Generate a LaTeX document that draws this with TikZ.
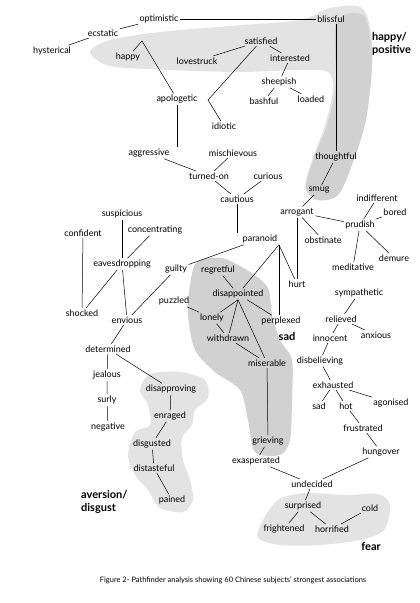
\documentclass[tikz,border=0pt]{standalone}
\usepackage{fontspec}
\setmainfont{Lato}

\begin{document}
\begin{tikzpicture}[x=1pt,y=-1pt,
    emo/.style={font=\fontsize{9}{10}\selectfont, inner sep=1.5pt},
    grp/.style={font=\bfseries\fontsize{11}{13}\selectfont, align=left, inner sep=0pt},
    link/.style={line width=.5pt},
    blob/.style={fill=gray!22},
    blobdark/.style={fill=gray!36}]

    \useasboundingbox (0,0) rectangle (420,603);

    % shaded groups
    \fill[blob] plot[smooth cycle] coordinates {(90,52) (110,40) (160,32) (230,26) (300,20) (330,8) (362,8) (372,40) (370,90) (362,130) (350,165) (338,195) (318,200) (305,188) (312,160) (325,125) (333,90) (328,72) (300,70) (240,72) (170,70) (110,66)};
    \fill[blobdark] plot[smooth cycle] coordinates {(336,22) (364,16) (372,60) (366,120) (352,165) (338,195) (318,200) (306,188) (314,158) (327,125) (336,85)};
    \fill[blobdark] plot[smooth cycle] coordinates {(197,262) (222,258) (250,272) (268,288) (272,315) (280,340) (292,360) (292,400) (290,440) (280,455) (255,452) (248,420) (240,390) (215,372) (195,350) (188,315) (190,285)};
    \fill[blob] plot[smooth cycle] coordinates {(150,374) (180,372) (205,380) (208,398) (195,410) (192,425) (182,438) (183,460) (190,480) (193,500) (183,512) (160,508) (148,490) (135,475) (128,455) (135,432) (150,425) (148,405) (140,390)};
    \fill[blob] plot[smooth cycle] coordinates {(262,522) (278,500) (305,493) (345,495) (378,494) (390,505) (384,530) (360,540) (320,545) (280,545) (258,538)};

    % happy / positive
    \node[emo] (optimistic) at (159,19) {optimistic};
    \node[emo] (blissful) at (331,19) {blissful};
    \node[emo] (ecstatic) at (103,33) {ecstatic};
    \node[emo] (hysterical) at (52,51) {hysterical};
    \node[emo] (happy) at (128,57) {happy};
    \node[emo] (lovestruck) at (197,61) {lovestruck};
    \node[emo] (satisfied) at (261,41) {satisfied};
    \node[emo] (interested) at (290,58) {interested};
    \node[emo] (sheepish) at (279,82) {sheepish};
    \node[emo] (bashful) at (264,101) {bashful};
    \node[emo] (loaded) at (311,99) {loaded};
    \node[emo] (apologetic) at (177,99) {apologetic};
    \node[emo] (idiotic) at (224,126) {idiotic};
    \node[emo] (thoughtful) at (336,157) {thoughtful};
    \node[emo] (smug) at (319,190) {smug};
    \coordinate (hkink) at (142,41);
    \coordinate (akink) at (208,100);

    \node[emo] (aggressive) at (149,153) {aggressive};
    \node[emo] (mischievous) at (233,153) {mischievous};
    \node[emo] (turnedon) at (209,176) {turned-on};
    \node[emo] (curious) at (268,176) {curious};
    \node[emo] (cautious) at (237,199) {cautious};
    \node[emo] (arrogant) at (297,212) {arrogant};
    \node[emo] (indifferent) at (377,198) {indifferent};
    \node[emo] (bored) at (395,212) {bored};
    \node[emo] (prudish) at (360,225) {prudish};
    \node[emo] (obstinate) at (323,240) {obstinate};
    \node[emo] (meditative) at (353,267) {meditative};
    \node[emo] (demure) at (394,258) {demure};
    \node[emo] (paranoid) at (260,239) {paranoid};
    \node[emo] (hurt) at (297,284) {hurt};

    \node[emo] (suspicious) at (122,214) {suspicious};
    \node[emo] (concentrating) at (155,230) {concentrating};
    \node[emo] (confident) at (83,233) {confident};
    \node[emo] (eavesdropping) at (122,264) {eavesdropping};
    \node[emo] (guilty) at (176,269) {guilty};
    \node[emo] (shocked) at (82,313) {shocked};
    \node[emo] (envious) at (127,320) {envious};
    \node[emo] (determined) at (108,349) {determined};
    \node[emo] (jealous) at (107,375) {jealous};
    \node[emo] (surly) at (107,400) {surly};
    \node[emo] (negative) at (108,427) {negative};

    % sad
    \node[emo] (regretful) at (218,270) {regretful};
    \node[emo] (puzzled) at (174,301) {puzzled};
    \node[emo] (disappointed) at (238,294) {disappointed};
    \node[emo] (perplexed) at (281,321) {perplexed};
    \node[emo] (lonely) at (212,318) {lonely};
    \node[emo] (withdrawn) at (228,338) {withdrawn};
    \node[emo] (miserable) at (267,363) {miserable};
    \node[emo] (grieving) at (268,441) {grieving};
    \node[emo] (exasperated) at (256,461) {exasperated};

    \node[emo] (sympathetic) at (359,293) {sympathetic};
    \node[emo] (relieved) at (341,319) {relieved};
    \node[emo] (anxious) at (376,335) {anxious};
    \node[emo] (innocent) at (330,338) {innocent};
    \node[emo] (disbelieving) at (320,361) {disbelieving};
    \node[emo] (exhausted) at (333,385) {exhausted};
    \node[emo] (agonised) at (391,403) {agonised};
    \node[emo] (sadword) at (319,406) {sad};
    \node[emo] (hot) at (346,406) {hot};
    \node[emo] (frustrated) at (363,428) {frustrated};
    \node[emo] (hungover) at (381,452) {hungover};

    % aversion / disgust
    \node[emo] (disapproving) at (171,389) {disapproving};
    \node[emo] (enraged) at (170,416) {enraged};
    \node[emo] (disgusted) at (152,444) {disgusted};
    \node[emo] (distasteful) at (154,468) {distasteful};
    \node[emo] (pained) at (172,500) {pained};

    % fear
    \node[emo] (undecided) at (312,484) {undecided};
    \node[emo] (surprised) at (303,506) {surprised};
    \node[emo] (cold) at (370,508) {cold};
    \node[emo] (frightened) at (284,529) {frightened};
    \node[emo] (horrified) at (332,529) {horrified};

    % group names
    \node[grp, anchor=north west] (poslbl) at (372,32) {happy/\\positive};
    \node[grp] (sadlbl) at (287,336) {sad};
    \node[grp, anchor=north west] (averlbl) at (81,490) {aversion/\\disgust};
    \node[grp] (fearlbl) at (371,546) {fear};

    \node[font=\fontsize{7.5}{9}\selectfont] (caption) at (233,580) {Figure 2- Pathfinder analysis showing 60 Chinese subjects' strongest associations};

    % links
    \draw[link] (hysterical) -- (ecstatic);
    \draw[link] (ecstatic) -- (optimistic);
    \draw[link] (optimistic) -- (blissful);
    \draw[link] (happy) -- (hkink) -- (apologetic);
    \draw[link] (lovestruck) -- (satisfied);
    \draw[link] (satisfied) -- (interested);
    \draw[link] (satisfied) -- (akink) -- (idiotic);
    \draw[link] (interested) -- (sheepish);
    \draw[link] (sheepish) -- (bashful);
    \draw[link] (sheepish) -- (loaded);
    \draw[link] (blissful.south -| thoughtful) -- (thoughtful);
    \draw[link] (thoughtful) -- (smug);
    \draw[link] (smug) -- (arrogant);
    \draw[link] (apologetic) -- (apologetic |- aggressive.north);

    \draw[link] (aggressive) -- (turnedon);
    \draw[link] (mischievous) -- (turnedon);
    \draw[link] (turnedon) -- (cautious);
    \draw[link] (curious) -- (cautious);
    \draw[link] (cautious) -- (cautious |- paranoid.north);
    \draw[link] (arrogant) -- (prudish);
    \draw[link] (indifferent) -- (prudish);
    \draw[link] (bored) -- (prudish);
    \draw[link] (prudish) -- (meditative);
    \draw[link] (prudish) -- (demure);
    \draw[link] (arrogant) -- (obstinate);
    \draw[link] (arrogant) -- (hurt);
    \draw[link] (paranoid) -- (guilty);
    \draw[link] (paranoid.south east) -- (disappointed);
    \draw[link] (paranoid.south east) -- (hurt);
    \draw[link] (paranoid.south east) -- (paranoid.south east |- perplexed.north);

    \draw[link] (suspicious) -- (eavesdropping);
    \draw[link] (concentrating) -- (eavesdropping);
    \draw[link] (confident) -- (shocked);
    \draw[link] (eavesdropping) -- (shocked);
    \draw[link] (eavesdropping) -- (envious);
    \draw[link] (guilty) -- (envious);
    \draw[link] (envious) -- (determined);
    \draw[link] (determined) -- (jealous) -- (surly) -- (negative);
    \draw[link] (determined) -- (disapproving);

    \draw[link] (disapproving) -- (enraged);
    \draw[link] (enraged) -- (disgusted);
    \draw[link] (disgusted) -- (distasteful);
    \draw[link] (distasteful) -- (pained);

    \draw[link] (regretful) -- (disappointed);
    \draw[link] (puzzled) -- (lonely);
    \draw[link] (disappointed.south) -- (lonely);
    \draw[link] (disappointed.south) -- (withdrawn);
    \draw[link] (disappointed.south) -- (miserable);
    \draw[link] (disappointed) -- (perplexed);
    \draw[link] (lonely) -- (withdrawn);
    \draw[link] (withdrawn) -- (miserable);
    \draw[link] (miserable) -- (grieving);
    \draw[link] (grieving) -- (exasperated);
    \draw[link] (exasperated) -- (undecided);

    \draw[link] (sympathetic) -- (relieved);
    \draw[link] (relieved) -- (anxious);
    \draw[link] (relieved) -- (innocent);
    \draw[link] (innocent) -- (disbelieving);
    \draw[link] (disbelieving) -- (exhausted);
    \draw[link] (exhausted) -- (agonised);
    \draw[link] (exhausted) -- (sadword);
    \draw[link] (exhausted) -- (hot);
    \draw[link] (hot) -- (frustrated);
    \draw[link] (frustrated) -- (hungover);
    \draw[link] (hungover) -- (undecided);

    \draw[link] (undecided) -- (surprised);
    \draw[link] (surprised) -- (frightened);
    \draw[link] (surprised) -- (horrified);
    \draw[link] (cold) -- (horrified);

\end{tikzpicture}
\end{document}
